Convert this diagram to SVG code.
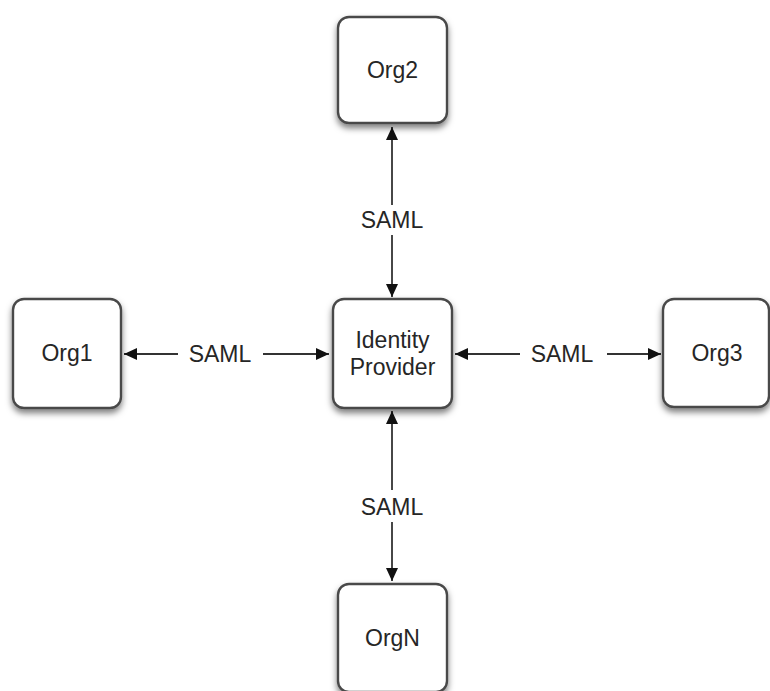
<svg xmlns="http://www.w3.org/2000/svg" width="770" height="691" viewBox="0 0 770 691">
  <style>
    .box { fill: #ffffff; stroke: #4a4a4a; stroke-width: 2.4; filter: url(#shadow); }
    .lbl { font-family: "Liberation Sans", Arial, Helvetica, sans-serif; font-size: 23px; fill: #262626; text-anchor: middle; }
    .conn { stroke: #333333; stroke-width: 1.8; fill: none; marker-end: url(#arrow); }
  </style>
  <defs>
    <filter id="shadow" x="-20%" y="-20%" width="140%" height="150%">
      <feDropShadow dx="0" dy="4" stdDeviation="3" flood-color="#000000" flood-opacity="0.5"/>
    </filter>
    <marker id="arrow" markerUnits="userSpaceOnUse" markerWidth="14" markerHeight="12" refX="13" refY="6" orient="auto">
      <path d="M0,0 L13,6 L0,12 z" fill="#111111"/>
    </marker>
  </defs>
  <rect width="770" height="691" fill="#ffffff"/>

  <g id="connectors">
    <line class="conn" x1="178" y1="354" x2="124" y2="354"/>
    <line class="conn" x1="263" y1="354" x2="329" y2="354"/>
    <text class="lbl" x="220" y="362">SAML</text>

    <line class="conn" x1="520" y1="354" x2="455" y2="354"/>
    <line class="conn" x1="607" y1="354" x2="661" y2="354"/>
    <text class="lbl" x="562" y="362">SAML</text>

    <line class="conn" x1="392" y1="205" x2="392" y2="127"/>
    <line class="conn" x1="392" y1="235" x2="392" y2="297"/>
    <text class="lbl" x="392" y="228">SAML</text>

    <line class="conn" x1="392" y1="490" x2="392" y2="411"/>
    <line class="conn" x1="392" y1="522" x2="392" y2="581"/>
    <text class="lbl" x="392" y="515">SAML</text>
  </g>

  <g id="org2">
    <rect class="box" x="338" y="17" width="109" height="106" rx="11"/>
    <text class="lbl" x="392.5" y="78">Org2</text>
  </g>
  <g id="idp">
    <rect class="box" x="333" y="299" width="119" height="109" rx="11"/>
    <text class="lbl" x="392.5" y="348">Identity</text>
    <text class="lbl" x="392.5" y="375">Provider</text>
  </g>
  <g id="org1">
    <rect class="box" x="13" y="299" width="108" height="109" rx="11"/>
    <text class="lbl" x="67" y="361">Org1</text>
  </g>
  <g id="org3">
    <rect class="box" x="663" y="299" width="106" height="108" rx="11"/>
    <text class="lbl" x="717" y="361">Org3</text>
  </g>
  <g id="orgN">
    <rect class="box" x="338" y="584" width="109" height="108" rx="11"/>
    <text class="lbl" x="392.5" y="646">OrgN</text>
  </g>
</svg>
